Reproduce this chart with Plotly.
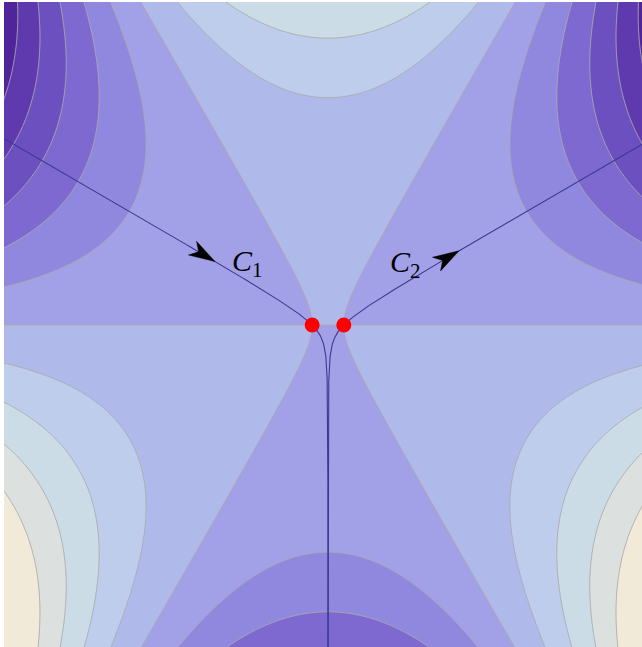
import numpy as np
import plotly.graph_objects as go

# ---- data / parameters ----
EPS = 0.01                      # phase  phi(z) = z^3/3 - EPS*z ; saddles at z = +-sqrt(EPS)
X_RANGE = [-2.047, 1.984]
Y_RANGE = [-2.034, 2.040]
GRID_N = 420
GRID_LIM = 2.1
LEVEL_START, LEVEL_END, LEVEL_STEP = -4, 5, 1
# band colours, lowest band (< -4) to highest (> 5)
BAND_COLORS = ["#F2EAD8", "#DCE1E0", "#CCDCE6", "#BECDEB", "#B0BAEA",
               "#A2A1E7", "#8F88DE", "#7D69D0", "#6C50C0", "#5E3AAE", "#50259A"]
CONTOUR_LINE = "rgba(170,170,172,0.9)"
PATH_COLOR = "#3a3a90"
LABELS = ["<i>C</i><sub>1</sub>", "<i>C</i><sub>2</sub>"]
LABEL_POS = [(-0.51, 0.392), (0.49, 0.385)]
ARROW_TIP_X = [-0.714, 0.828]
ARROW_LEN, ARROW_HALF_W, ARROW_NOTCH = 0.165, 0.05, 0.045

# ---- field ----
xs = np.linspace(-GRID_LIM, GRID_LIM, GRID_N)
ys = np.linspace(-GRID_LIM, GRID_LIM, GRID_N)
X, Y = np.meshgrid(xs, ys)
Z = X + 1j * Y
F = np.imag(Z**3 / 3 - EPS * Z)

nc = int(round((LEVEL_END - LEVEL_START) / LEVEL_STEP)) + 1
colorscale = [[k / nc, c] for k, c in enumerate(BAND_COLORS)]

fig = go.Figure()
fig.add_trace(go.Contour(
    x=xs, y=ys, z=F,
    contours=dict(start=LEVEL_START, end=LEVEL_END, size=LEVEL_STEP, coloring="fill"),
    colorscale=colorscale, showscale=False,
    line=dict(color=CONTOUR_LINE, width=1), hoverinfo="skip"))

# ---- steepest paths through the saddles: Re(phi) = Re(phi(z0)) ----
x0 = np.sqrt(EPS)
g0 = x0**3 / 3 - EPS * x0   # value at right saddle


def branch_y(x, sign):
    # for right saddle (x>0): y^2 = x^2/3 - EPS - g0/x
    v = x**2 / 3 - EPS - g0 / x
    return sign * np.sqrt(np.clip(v, 0, None))


xd = np.geomspace(1.3e-4, x0, 500)
xu = np.linspace(x0, 2.3, 500)
path_x = np.concatenate([xd, xu[1:]])
path_y = np.concatenate([branch_y(xd, -1), branch_y(xu[1:], 1)])

for s in (-1, 1):
    fig.add_trace(go.Scatter(x=s * path_x, y=path_y, mode="lines",
                             line=dict(color=PATH_COLOR, width=1.1),
                             hoverinfo="skip", showlegend=False))

# ---- arrowheads ----
for tip_x in ARROW_TIP_X:
    s = np.sign(tip_x)
    ax_ = abs(tip_x)
    ty = branch_y(ax_, 1)
    d = 1e-3
    dy = (branch_y(ax_ + d, 1) - branch_y(ax_ - d, 1)) / (2 * d)
    t = np.array([1.0, dy]); t /= np.linalg.norm(t)
    t = np.array([s * t[0], t[1]])
    if s < 0:   # C1 points towards the saddle
        t = -t
    n = np.array([-t[1], t[0]])
    tip = np.array([tip_x, ty])
    back = tip - ARROW_LEN * t
    pts = [tip, back + ARROW_HALF_W * n, back + ARROW_NOTCH * t, back - ARROW_HALF_W * n, tip]
    fig.add_trace(go.Scatter(x=[p[0] for p in pts], y=[p[1] for p in pts], mode="lines",
                             fill="toself", fillcolor="black",
                             line=dict(color="black", width=0.5),
                             hoverinfo="skip", showlegend=False))

# ---- saddle points ----
fig.add_trace(go.Scatter(x=[-x0, x0], y=[0, 0], mode="markers",
                         marker=dict(color="red", size=15, line=dict(width=0)),
                         hoverinfo="skip", showlegend=False))

for txt, (lx, ly) in zip(LABELS, LABEL_POS):
    fig.add_annotation(x=lx, y=ly, text=txt, showarrow=False,
                       font=dict(family="Liberation Serif, Times New Roman, serif", size=30, color="black"))

fig.update_layout(
    width=642, height=647, margin=dict(l=4, r=0, t=2, b=0),
    paper_bgcolor="white", plot_bgcolor="white", showlegend=False,
    xaxis=dict(range=X_RANGE, visible=False, showgrid=False, zeroline=False),
    yaxis=dict(range=Y_RANGE, visible=False, showgrid=False, zeroline=False),
)
fig.write_html("out.html", config={"displayModeBar": False},
               post_script="document.body.style.margin='0';")
